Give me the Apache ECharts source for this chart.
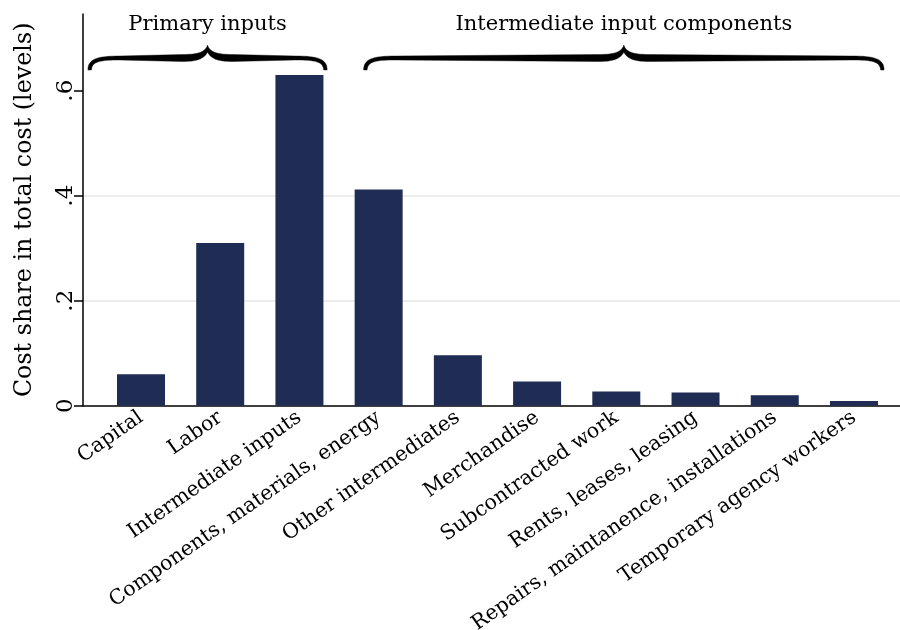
<!DOCTYPE html>
<html>
<head>
<meta charset="utf-8">
<script src="https://cdn.jsdelivr.net/npm/echarts@6/dist/echarts.min.js"></script>
<style>
html,body{margin:0;padding:0;background:#fff;}
#chart{width:900px;height:630px;}
</style>
</head>
<body>
<div id="chart"></div>
<script>
const categories = [
  "Capital", "Labor", "Intermediate inputs", "Components, materials, energy",
  "Other intermediates", "Merchandise", "Subcontracted work",
  "Rents, leases, leasing", "Repairs, maintanence, installations",
  "Temporary agency workers"
];
const costShare = [0.060, 0.310, 0.630, 0.412, 0.096, 0.046, 0.027, 0.025, 0.020, 0.009];
const yTickValues = [0, 0.2, 0.4, 0.6];
const yTickLabels = ["0", ".2", ".4", ".6"];
const groupLabels = ["Primary inputs", "Intermediate input components"];
const groupSpans = [[-0.67, 2.35], [2.81, 9.38]];

const FONT = "DejaVu Serif";
const chart = echarts.init(document.getElementById('chart'), null, {renderer: 'canvas'});

chart.setOption({
  animation: false,
  backgroundColor: '#fff',
  grid: {left: 83, right: 0, top: 14, bottom: 224.3, containLabel: false, outerBoundsMode: 'none'},
  xAxis: {
    type: 'value',
    min: -0.732, max: 9.581,
    axisLine: {show: true, onZero: false, lineStyle: {color: '#000', width: 1.5}},
    axisTick: {show: false},
    splitLine: {show: false},
    axisLabel: {
      customValues: categories.map((c, i) => i),
      formatter: v => categories[Math.round(v)],
      rotate: 35,
      margin: 10,
      color: '#000',
      fontFamily: FONT,
      fontSize: 20.5
    }
  },
  yAxis: {
    type: 'value',
    min: 0, max: 0.7461,
    interval: 0.2,
    name: 'Cost share in total cost (levels)',
    nameLocation: 'middle',
    nameRotate: 90,
    nameGap: 46,
    nameTextStyle: {color: '#000', fontFamily: FONT, fontSize: 23.8},
    axisLine: {show: true, onZero: false, lineStyle: {color: '#000', width: 1.5}},
    axisTick: {show: true, length: 9, customValues: yTickValues, lineStyle: {color: '#000', width: 1.5}},
    axisLabel: {
      customValues: yTickValues,
      formatter: v => yTickLabels[yTickValues.findIndex(t => Math.abs(t - v) < 1e-6)],
      rotate: 90,
      margin: 5,
      color: '#000',
      fontFamily: FONT,
      fontSize: 23
    },
    splitLine: {show: true, showMinLine: false, showMaxLine: false, lineStyle: {color: '#e6e6e6', width: 1.5}}
  },
  series: [{
    type: 'bar',
    barWidth: 48,
    data: costShare.map((v, i) => [i, v]),
    itemStyle: {color: '#1f2d54'}
  }]
});

// sample a simple path (M, L, C commands) into polygon points
function samplePath(cmds) {
  const pts = [];
  let cur = null;
  cmds.forEach(c => {
    if (c[0] === 'M' || c[0] === 'L') {
      cur = [c[1], c[2]];
      pts.push(cur);
    } else if (c[0] === 'C') {
      const p0 = cur, p1 = [c[1], c[2]], p2 = [c[3], c[4]], p3 = [c[5], c[6]];
      for (let k = 1; k <= 16; k++) {
        const t = k / 16, u = 1 - t;
        pts.push([
          u*u*u*p0[0] + 3*u*u*t*p1[0] + 3*u*t*t*p2[0] + t*t*t*p3[0],
          u*u*u*p0[1] + 3*u*u*t*p1[1] + 3*u*t*t*p2[1] + t*t*t*p3[1]
        ]);
      }
      cur = p3;
    }
  });
  return pts;
}

function bracePoints(x0, x1) {
  const xm = (x0 + x1) / 2;
  const yEnd = 70, yTop = 54.5, yBot = 61.5, yTip = 45, tp = 1.5;
  return samplePath([
    ['M', x0, yEnd],
    ['C', x0, yTop+tp+3, x0+9, yTop+tp, x0+32, yTop+tp],
    ['L', xm-25, yTop],
    ['C', xm-8, yTop, xm-2, yTop-3, xm, yTip],
    ['C', xm+2, yTop-3, xm+8, yTop, xm+25, yTop],
    ['L', x1-32, yTop+tp],
    ['C', x1-9, yTop+tp, x1, yTop+tp+3, x1, yEnd],
    ['L', x1-3.5, yEnd],
    ['C', x1-4, yBot, x1-12, yBot-tp, x1-32, yBot-tp],
    ['L', xm+25, yBot],
    ['C', xm+10, yBot, xm+3, yBot-3, xm, yTip+7],
    ['C', xm-3, yBot-3, xm-10, yBot, xm-25, yBot],
    ['L', x0+32, yBot-tp],
    ['C', x0+12, yBot-tp, x0+4, yBot, x0+3.5, yEnd]
  ]);
}

const graphics = [];
groupSpans.forEach((span, k) => {
  const x0 = chart.convertToPixel({xAxisIndex: 0}, span[0]);
  const x1 = chart.convertToPixel({xAxisIndex: 0}, span[1]);
  graphics.push({
    type: 'polygon',
    shape: {points: bracePoints(x0, x1)},
    style: {fill: '#000', stroke: '#000', lineWidth: 0.4}
  });
  graphics.push({
    type: 'text',
    x: (x0 + x1) / 2, y: 25,
    style: {
      text: groupLabels[k],
      fill: '#000',
      font: `21px "${FONT}"`,
      textAlign: 'center',
      textVerticalAlign: 'middle'
    }
  });
});
chart.setOption({graphic: graphics});
</script>
</body>
</html>
